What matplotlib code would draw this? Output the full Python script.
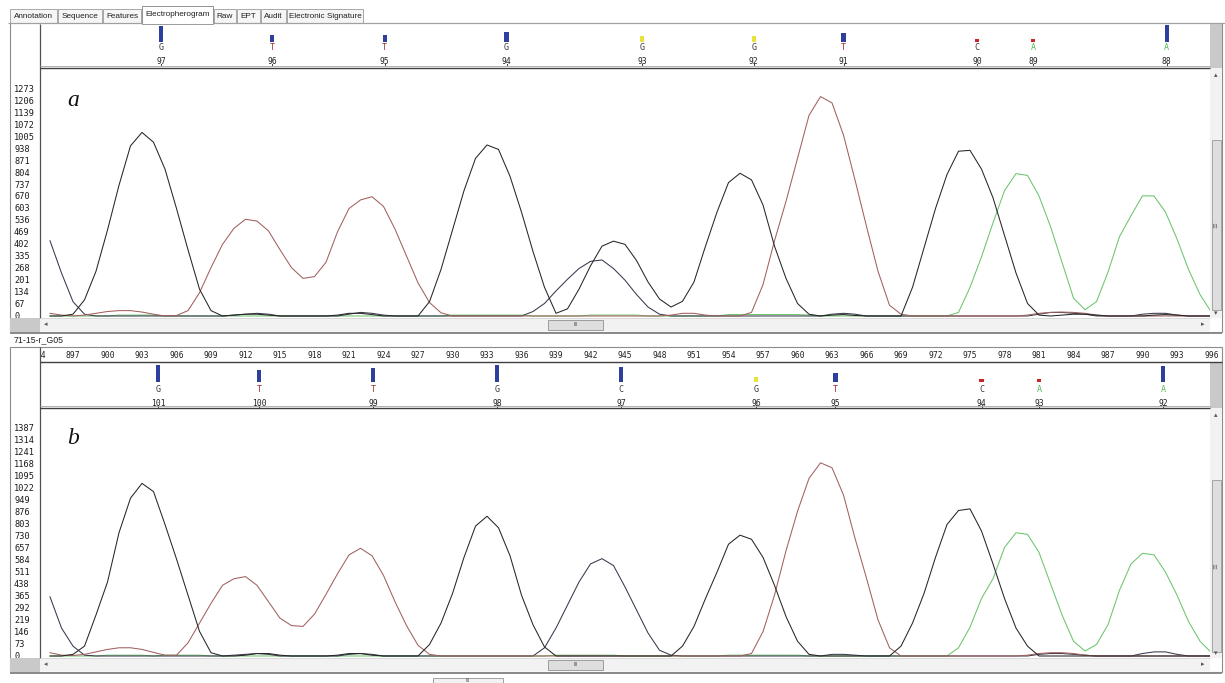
import matplotlib
matplotlib.use("Agg")
import matplotlib.pyplot as plt
from matplotlib.patches import Rectangle

W, H = 1225, 683

# ---- trace data: one value per scan, starting at SCAN0 ----
SCAN0 = 895

# panel a (upper electropherogram)
A_G = [0, 0, 10, 90, 250, 480, 730, 950, 1025, 970,
       820, 600, 370, 150, 30, 0, 5, 10, 10, 5,
       0, 0, 0, 0, 0, 5, 15, 15, 8, 0,
       0, 0, 0, 80, 260, 480, 700, 880, 955, 930,
       780, 580, 360, 160, 15, 40, 150, 280, 390, 418,
       400, 310, 190, 95, 50, 82, 190, 390, 580, 745,
       797, 760, 620, 390, 210, 70, 10, 0, 5, 8,
       3, 0, 0, 0, 0, 160, 380, 600, 790, 920,
       925, 820, 660, 450, 240, 70, 5, 0, 5, 10,
       10, 5, 0, 0, 0, 0, 5, 8, 5, 0,
       0, 0]
A_T = [15, 5, 0, 5, 15, 25, 30, 30, 22, 10,
       0, 3, 30, 130, 270, 400, 490, 540, 530, 475,
       370, 270, 210, 220, 300, 470, 600, 648, 666, 612,
       485, 335, 185, 75, 18, 0, 0, 0, 0, 0,
       0, 0, 0, 0, 0, 0, 0, 0, 0, 0,
       0, 0, 0, 0, 5, 15, 15, 5, 0, 0,
       0, 20, 175, 420, 640, 880, 1120, 1225, 1190, 1010,
       760, 500, 250, 60, 10, 0, 0, 0, 0, 0,
       0, 0, 0, 0, 0, 5, 15, 20, 22, 20,
       15, 5, 0, 0, 0, 0, 0, 0, 0, 0,
       0, 0]
A_A = [0, 0, 0, 0, 0, 0, 5, 5, 5, 5,
       0, 0, 0, 0, 0, 0, 0, 0, 0, 0,
       0, 0, 0, 0, 0, 0, 0, 0, 0, 0,
       0, 0, 0, 0, 0, 5, 5, 5, 5, 5,
       5, 5, 0, 0, 0, 0, 0, 5, 5, 5,
       5, 5, 0, 0, 0, 0, 0, 0, 0, 8,
       8, 8, 8, 8, 8, 8, 5, 0, 0, 0,
       0, 0, 0, 0, 0, 0, 0, 0, 0, 20,
       160, 330, 520, 700, 795, 785, 670, 500, 300, 100,
       35, 80, 245, 443, 560, 671, 670, 580, 430, 260,
       120, 20]
A_C = [420, 240, 80, 10, 0, 0, 0, 0, 0, 0,
       0, 0, 0, 0, 0, 0, 5, 10, 15, 10,
       0, 0, 0, 0, 0, 0, 10, 20, 15, 5,
       0, 0, 0, 0, 0, 0, 0, 0, 0, 0,
       0, 0, 25, 70, 140, 205, 265, 305, 313, 265,
       200, 120, 50, 10, 0, 0, 0, 0, 0, 0,
       0, 0, 0, 0, 0, 0, 0, 0, 10, 15,
       10, 0, 0, 0, 0, 0, 0, 0, 0, 0,
       0, 0, 0, 0, 0, 0, 10, 20, 20, 15,
       10, 0, 0, 0, 0, 10, 15, 15, 5, 0,
       0, 0]

# panel b (lower electropherogram, 71-15-r_G05)
B_G = [0, 0, 10, 60, 250, 450, 750, 960, 1050, 1000,
       800, 590, 370, 150, 20, 0, 0, 5, 15, 15,
       5, 0, 0, 0, 0, 5, 15, 15, 5, 0,
       0, 0, 0, 70, 200, 380, 600, 790, 850, 780,
       610, 370, 190, 55, 0, 0, 0, 0, 0, 0,
       0, 0, 0, 0, 0, 60, 180, 350, 510, 680,
       735, 710, 600, 430, 240, 90, 10, 0, 0, 0,
       0, 0, 0, 0, 60, 200, 380, 600, 800, 885,
       895, 760, 560, 350, 170, 60, 0, 0, 0, 0,
       0, 0, 0, 0, 0, 0, 0, 0, 0, 0,
       0, 0]
B_T = [20, 5, 3, 10, 25, 40, 50, 50, 40, 22,
       5, 5, 80, 200, 320, 430, 470, 483, 430, 330,
       230, 185, 180, 255, 375, 500, 615, 655, 610, 490,
       330, 185, 65, 10, 0, 0, 0, 0, 0, 0,
       0, 0, 0, 0, 0, 0, 0, 0, 0, 0,
       0, 0, 0, 0, 0, 0, 0, 0, 0, 0,
       0, 15, 148, 370, 640, 880, 1080, 1175, 1145, 979,
       716, 473, 220, 50, 0, 0, 0, 0, 0, 0,
       0, 0, 0, 0, 0, 5, 15, 20, 20, 15,
       5, 0, 0, 0, 0, 0, 0, 0, 0, 0,
       0, 0]
B_A = [0, 0, 0, 0, 0, 5, 5, 5, 5, 0,
       5, 5, 5, 5, 0, 0, 0, 0, 0, 0,
       0, 0, 0, 0, 0, 0, 0, 0, 0, 0,
       0, 0, 0, 0, 0, 0, 0, 0, 0, 0,
       0, 0, 0, 0, 5, 5, 5, 5, 5, 5,
       0, 0, 0, 0, 0, 0, 0, 0, 0, 5,
       5, 5, 5, 5, 5, 5, 0, 0, 0, 0,
       0, 0, 0, 0, 0, 0, 0, 0, 0, 50,
       175, 350, 470, 660, 750, 740, 630, 440, 250, 90,
       30, 70, 190, 400, 560, 625, 615, 510, 370, 210,
       90, 20]
B_C = [360, 170, 60, 5, 0, 0, 0, 0, 0, 0,
       0, 0, 0, 0, 0, 0, 5, 10, 15, 10,
       0, 0, 0, 0, 0, 0, 10, 15, 10, 0,
       0, 0, 0, 0, 0, 0, 0, 0, 0, 0,
       0, 0, 0, 50, 170, 310, 450, 560, 592, 550,
       420, 280, 140, 35, 5, 0, 0, 0, 0, 0,
       0, 0, 0, 0, 0, 0, 0, 0, 10, 10,
       5, 0, 0, 0, 0, 0, 0, 0, 0, 0,
       0, 0, 0, 0, 0, 0, 10, 15, 15, 10,
       5, 0, 0, 0, 0, 15, 25, 25, 10, 0,
       0, 0]

# ---- base calls ----
A_CALL_POS = [904.65, 914.3, 924.1, 934.7, 946.5, 956.2, 964.0, 975.6, 980.5, 992.1]
A_CALL_BASE = ["G", "T", "T", "G", "G", "G", "T", "C", "A", "A"]
A_CALL_NUM = [97, 96, 95, 94, 93, 92, 91, 90, 89, 88]
A_CALL_QV = [48, 20, 21, 30, 17, 17, 27, 8, 8, 50]

B_CALL_POS = [904.4, 913.2, 923.1, 933.9, 944.65, 956.4, 963.3, 976.0, 981.0, 991.8]
B_CALL_BASE = ["G", "T", "T", "G", "C", "G", "T", "C", "A", "A"]
B_CALL_NUM = [101, 100, 99, 98, 97, 96, 95, 94, 93, 92]
B_CALL_QV = [51, 36, 43, 50, 45, 15, 27, 10, 10, 48]

A_YTICKS = list(range(0, 1274, 67))
B_YTICKS = list(range(0, 1388, 73))
RULER_TICKS = list(range(894, 997, 3))

TABS = ["Annotation", "Sequence", "Features", "Electropherogram", "Raw", "EPT",
        "Audit", "Electronic Signature"]
TAB_EDGES = [10, 58, 103, 142, 214, 237, 261, 287, 364]
ACTIVE_TAB = "Electropherogram"
SAMPLE_NAME = "71-15-r_G05"

TRACE_COL = {"A": "#6cc46c", "C": "#38384c", "T": "#a0605e", "G": "#262626"}
BASE_COL = {"A": "#5cb85c", "C": "#3a3a3a", "T": "#a03030", "G": "#3a3a3a"}

PX_PER_SCAN = 11.5
X_LO = 894.13
X_HI = X_LO + (1210 - 40) / PX_PER_SCAN
MONO = "DejaVu Sans Mono"
SANS = "Liberation Sans"


def frac(x0, y0, x1, y1):
    return [x0 / W, 1 - y1 / H, (x1 - x0) / W, (y1 - y0) / H]


def qv_color(q):
    if q >= 20:
        return "#2f3f9e"
    if q >= 15:
        return "#e9e23a"
    return "#c8242a"


fig = plt.figure(figsize=(W / 100, H / 100), dpi=100)
fig.patch.set_facecolor("white")


def trace_axes(rect, ylim, yticks, traces):
    ax = fig.add_axes(frac(*rect))
    ax.set_xlim(X_LO, X_HI)
    ax.set_ylim(*ylim)
    for vals, key in traces:
        scans = list(range(SCAN0, SCAN0 + len(vals)))
        ax.plot(scans, vals, color=TRACE_COL[key], lw=0.75)
    for s in ax.spines.values():
        s.set_visible(False)
    ax.set_xticks([])
    ax.set_yticks(yticks)
    ax.set_yticklabels([str(t) for t in yticks], ha="left", fontsize=6.2,
                       family=MONO, color="#1a1a1a")
    ax.tick_params(axis="y", length=0, pad=18.7)
    return ax


def header_axes(rect, pos, bases, nums, qvs, y_bar, y_base, y_num):
    ax = fig.add_axes(frac(*rect))
    ax.set_xlim(X_LO, X_HI)
    ax.set_ylim(rect[3], rect[1])  # pixel rows, top at top
    ax.axis("off")
    colors = [qv_color(q) for q in qvs]
    ax.bar(pos, [-q / 3.0 for q in qvs], bottom=y_bar, width=0.36,
           color=colors, edgecolor="none")
    for p, b, n in zip(pos, bases, nums):
        ax.text(p, y_base, b, ha="center", va="center", fontsize=6,
                family=MONO, color=BASE_COL[b])
        ax.text(p, y_num, str(n), ha="center", va="center", fontsize=5.8,
                family=MONO, color="#222222")
        ax.plot([p, p], [rect[3] - 3, rect[3]], color="#444444", lw=0.7)
    return ax


axA = trace_axes((40, 68, 1210, 318), (-11.2, 1384.7), A_YTICKS,
                 [(A_A, "A"), (A_C, "C"), (A_T, "T"), (A_G, "G")])
axB = trace_axes((40, 408, 1210, 658), (-12.2, 1508.5), B_YTICKS,
                 [(B_A, "A"), (B_C, "C"), (B_T, "T"), (B_G, "G")])

header_axes((40, 24, 1210, 67), A_CALL_POS, A_CALL_BASE, A_CALL_NUM, A_CALL_QV,
            42, 48, 61)
header_axes((40, 362, 1210, 408), B_CALL_POS, B_CALL_BASE, B_CALL_NUM, B_CALL_QV,
            382, 389, 403)

# scan ruler above panel b (runs on under the scrollbar column)
ruler = fig.add_axes(frac(40, 348, 1222, 362))
ruler.set_xlim(X_LO, X_LO + (1222 - 40) / PX_PER_SCAN)
ruler.set_ylim(0, 1)
ruler.axis("off")
for s in RULER_TICKS:
    ruler.text(s, 0.5, str(s), ha="center", va="center", fontsize=5.8,
               family=MONO, color="#222222", clip_on=True)

# ---- window chrome drawn in pixel coordinates ----
ui = fig.add_axes([0, 0, 1, 1], zorder=5)
ui.set_xlim(0, W)
ui.set_ylim(H, 0)
ui.axis("off")

GRAY = "#c9c9c9"
EDGE = "#8c8c8c"


def line(xs, ys, c=EDGE, lw=0.8):
    ui.plot(xs, ys, color=c, lw=lw, solid_capstyle="butt")


def box(x0, y0, x1, y1, fc, ec="none", lw=0.7):
    ui.add_patch(Rectangle((x0, y0), x1 - x0, y1 - y0, fc=fc, ec=ec, lw=lw))


# tabs
line([8, 1225], [23, 23], c="#a0a0a0")
for name, x0, x1 in zip(TABS, TAB_EDGES[:-1], TAB_EDGES[1:]):
    if name == ACTIVE_TAB:
        box(x0, 6, x1 - 1, 23.6, "white", "#909090")
        line([x0 + 0.5, x1 - 1.5], [23.3, 23.3], c="white", lw=1.6)
    else:
        box(x0, 9, x1 - 1, 23, "#f6f6f6", "#a8a8a8")
    ui.text((x0 + x1 - 1) / 2, 16.5 if name != ACTIVE_TAB else 15, name,
            ha="center", va="center", fontsize=5.9, family=SANS, color="#202020")


def hscroll(y0, y1):
    box(40, y0, 1210, y1, "#f2f2f2")
    line([40, 1210], [y0, y0], c="#d6d6d6", lw=0.6)
    box(548, y0 + 1.5, 603, y1 - 1, "#dedede", "#9c9c9c")
    ui.text(575.5, (y0 + y1) / 2, "III", ha="center", va="center",
            fontsize=4, family=SANS, color="#555555")
    ui.text(46, (y0 + y1) / 2, "◂", ha="center", va="center", fontsize=5, color="#555555")
    ui.text(1203, (y0 + y1) / 2, "▸", ha="center", va="center", fontsize=5, color="#555555")


def vscroll(y0, y1, t0, t1):
    box(1210, y0, 1222, y1, "#f2f2f2")
    box(1211.5, t0, 1220.5, t1, "#dedede", "#a4a4a4")
    ui.text(1216, (t0 + t1) / 2, "≡", ha="center", va="center", rotation=90,
            fontsize=5, color="#666666")
    ui.text(1216, y0 + 7, "▴", ha="center", va="center", fontsize=5, color="#555555")
    ui.text(1216, y1 - 5, "▾", ha="center", va="center", fontsize=5, color="#555555")


# panel a frame
box(10, 23, 1222, 332, "none", EDGE, 0.8)
box(1210, 24, 1222, 68, GRAY)
line([40, 40], [24, 318], c="#505050", lw=0.9)
line([40, 1210], [66.3, 66.3], c="#b0b0b0", lw=0.7)
line([40, 1210], [67.6, 67.6], c="#404040", lw=1.0)
vscroll(68, 318, 140, 310)
hscroll(318, 331)
box(10, 318, 40, 332, GRAY)
line([10, 1222], [332.5, 332.5], c="#8a8a8a", lw=1.4)
ui.text(73, 100, "a", ha="center", va="center", fontsize=17, style="italic",
        family="Liberation Serif", color="#111111")

ui.text(14, 340, SAMPLE_NAME, ha="left", va="center", fontsize=6.3,
        family=SANS, color="#202020")

# panel b frame
box(10, 347, 1222, 672, "none", EDGE, 0.8)
box(1210, 363, 1222, 408, GRAY)
line([40, 40], [347, 658], c="#505050", lw=0.9)
line([40, 1222], [362, 362], c="#404040", lw=1.0)
line([40, 1210], [406.3, 406.3], c="#b0b0b0", lw=0.7)
line([40, 1210], [407.6, 407.6], c="#404040", lw=1.0)
vscroll(408, 658, 480, 652)
hscroll(658, 671)
box(10, 658, 40, 672, GRAY)
line([10, 1222], [672.5, 672.5], c="#8a8a8a", lw=1.4)
ui.text(73, 438, "b", ha="center", va="center", fontsize=17, style="italic",
        family="Liberation Serif", color="#111111")

# bottom scroller stub
box(433, 678, 503, 684, "#f2f2f2", "#a0a0a0")
ui.text(468, 681, "III", ha="center", va="center", fontsize=3.5, color="#555555")

fig.savefig("out.png", dpi=100)
